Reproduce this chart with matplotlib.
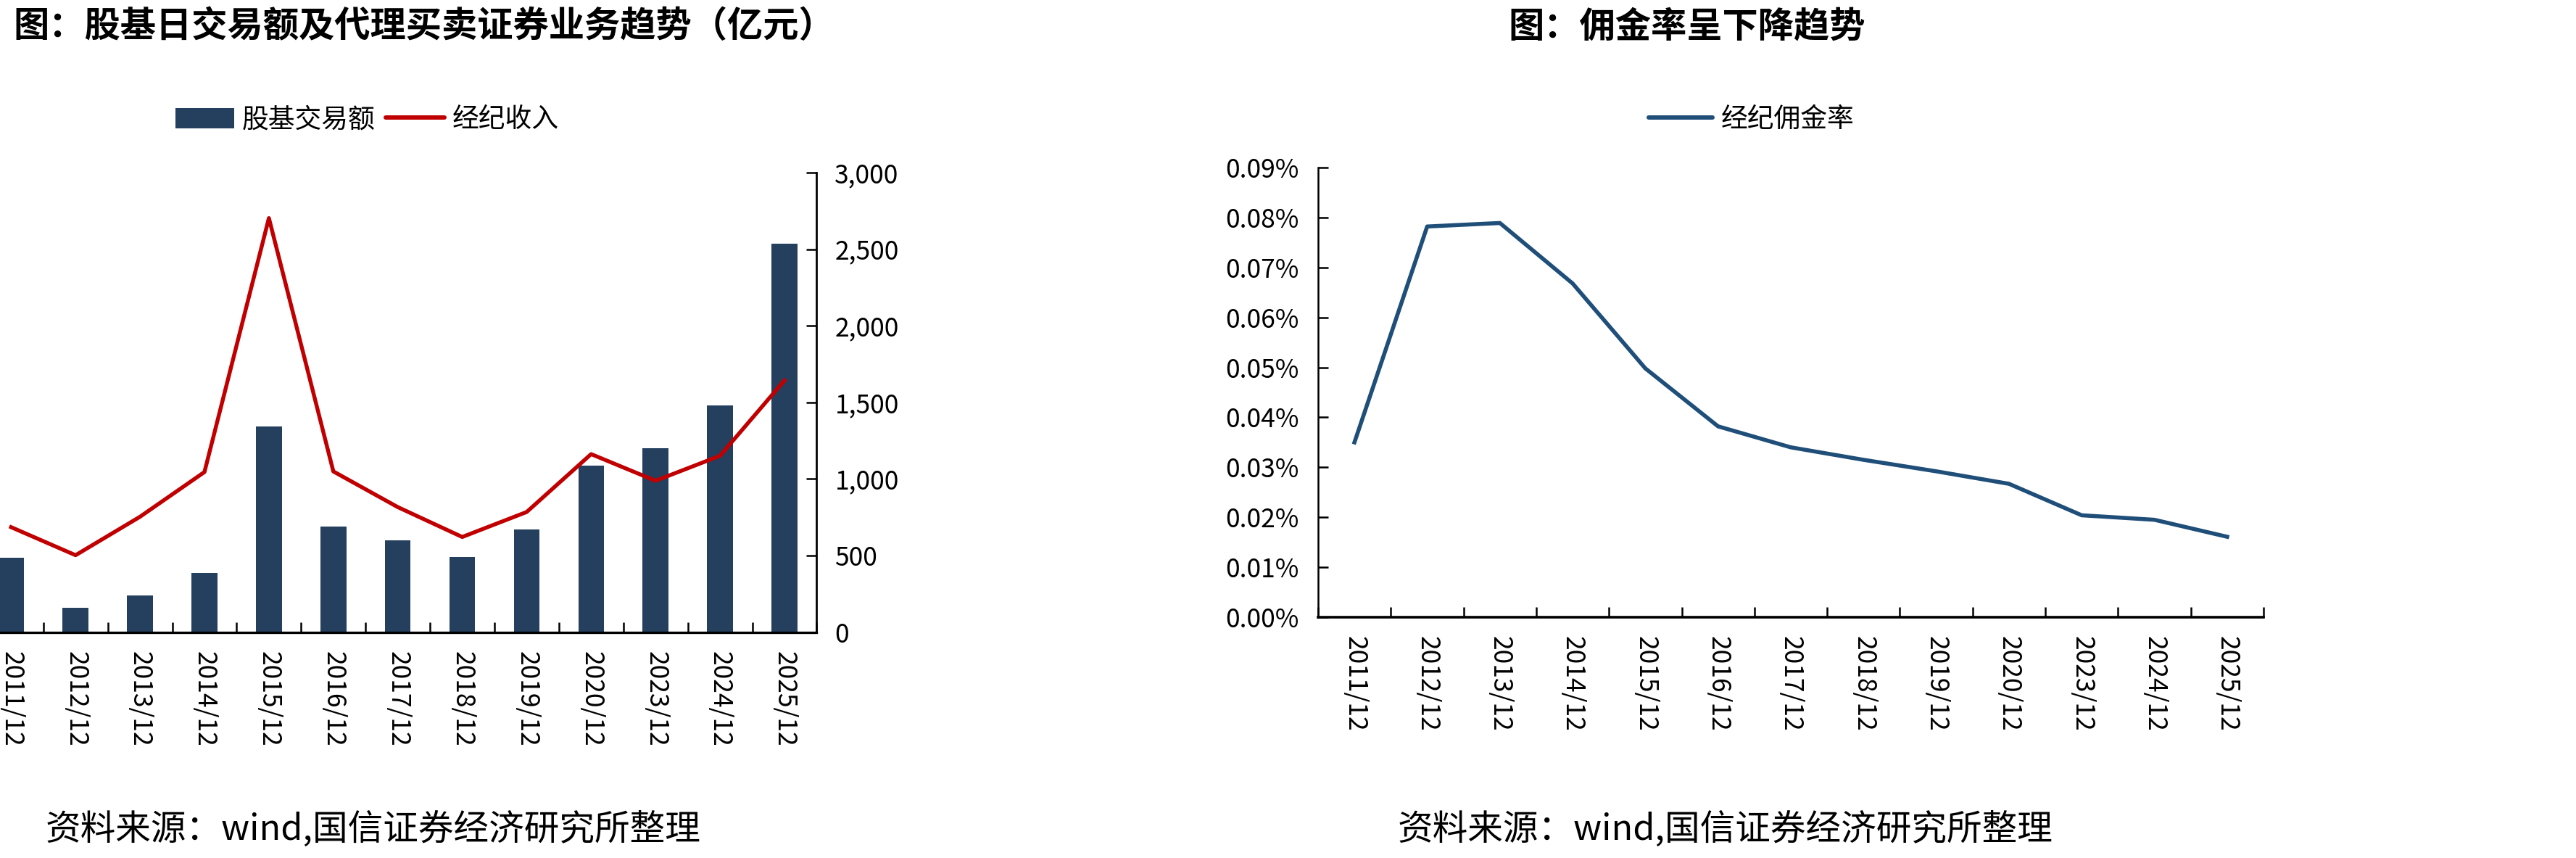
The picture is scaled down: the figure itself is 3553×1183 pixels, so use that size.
import matplotlib
matplotlib.use("Agg")
import matplotlib.pyplot as plt
from matplotlib.patches import Patch
from matplotlib.lines import Line2D
from matplotlib.ticker import FixedLocator, FuncFormatter

plt.rcParams['font.family'] = ['Noto Sans CJK SC', 'DejaVu Sans']

# ---------------- data ----------------
periods = ["2011/12", "2012/12", "2013/12", "2014/12", "2015/12", "2016/12", "2017/12",
           "2018/12", "2019/12", "2020/12", "2023/12", "2024/12", "2025/12"]
turnover = [485, 158, 239, 388, 1342, 689, 598, 490, 670, 1088, 1202, 1482, 2534]        # 股基交易额
brokerage_income = [685, 502, 753, 1045, 2703, 1049, 816, 621, 784, 1162, 988, 1151, 1643]  # 经纪收入
commission_rate = [0.0350, 0.0782, 0.0789, 0.0668, 0.0498, 0.0382, 0.0340, 0.0315,
                   0.0292, 0.0267, 0.0204, 0.0195, 0.0161]                                 # 经纪佣金率 (%)
left_yticks = [0, 500, 1000, 1500, 2000, 2500, 3000]
right_yticks = [0.00, 0.01, 0.02, 0.03, 0.04, 0.05, 0.06, 0.07, 0.08, 0.09]

title_left = "图：股基日交易额及代理买卖证券业务趋势（亿元）"
title_right = "图：佣金率呈下降趋势"
source = "资料来源：wind,国信证券经济研究所整理"

BAR = "#253F5F"
RED = "#C00000"
BLUE = "#1F4E79"

W, H = 3553, 1183
DPI = 100
fig = plt.figure(figsize=(W / DPI, H / DPI), dpi=DPI)

def fx(px):
    return px / W

def fy(py):
    return 1 - py / H

TICK_FS = 25.5
LEG_FS = 26.5

x = list(range(len(periods)))

# ---------------- left chart ----------------
axL = fig.add_axes([fx(-29.1), fy(871.5), fx(1126.4) - fx(-29.1), fy(238) - fy(871.5)])
axL.bar(x, turnover, width=0.4, color=BAR, zorder=2)
axL.plot(x, brokerage_income, color=RED, lw=3.9, zorder=3, solid_joinstyle='round')
axL.set_xlim(-0.5, len(periods) - 0.5)
axL.set_ylim(0, 3000)
for s in ['top', 'left']:
    axL.spines[s].set_visible(False)
axL.spines['right'].set_linewidth(2.0)
axL.spines['bottom'].set_linewidth(2.4)
axL.yaxis.tick_right()
axL.set_yticks(left_yticks)
axL.yaxis.set_major_formatter(FuncFormatter(lambda v, p: f"{v:,.0f}"))
axL.tick_params(axis='y', direction='in', length=10, width=1.8, pad=18, labelsize=TICK_FS)
axL.set_xticks(x)
axL.set_xticklabels(periods, rotation=270)
axL.tick_params(axis='x', which='major', length=0, pad=19, labelsize=TICK_FS)
axL.xaxis.set_minor_locator(FixedLocator([i + 0.5 for i in x]))
axL.tick_params(axis='x', which='minor', direction='in', length=10, width=1.8)

# ---------------- right chart ----------------
axR = fig.add_axes([fx(1818), fy(851), fx(3122) - fx(1818), fy(231) - fy(851)])
axR.plot(x, commission_rate, color=BLUE, lw=4.0, zorder=3, solid_joinstyle='round')
axR.set_xlim(-0.5, len(periods) - 0.5)
axR.set_ylim(0, 0.09)
for s in ['top', 'right']:
    axR.spines[s].set_visible(False)
axR.spines['left'].set_linewidth(1.8)
axR.spines['bottom'].set_linewidth(2.6)
axR.set_yticks(right_yticks)
axR.yaxis.set_major_formatter(FuncFormatter(lambda v, p: f"{v:.2f}%"))
axR.tick_params(axis='y', direction='in', length=10, width=1.8, pad=19, labelsize=TICK_FS)
axR.set_xticks(x)
axR.set_xticklabels(periods, rotation=270)
axR.tick_params(axis='x', which='major', length=0, pad=19, labelsize=TICK_FS)
axR.xaxis.set_minor_locator(FixedLocator([i - 0.5 for i in x] + [len(periods) - 0.5]))
axR.tick_params(axis='x', which='minor', direction='in', length=10, width=1.8)

# ---------------- legends ----------------
handlesL = [Patch(facecolor=BAR, edgecolor='none'),
            Line2D([], [], color=RED, lw=4.3, solid_capstyle='round')]
fig.legend(handlesL, ["股基交易额", "经纪收入"], loc='center left',
           bbox_to_anchor=(fx(242), fy(165)), ncol=2, frameon=False,
           fontsize=LEG_FS, borderpad=0, borderaxespad=0, handlelength=2.2,
           handleheight=0.8, handletextpad=0.3, columnspacing=0.38)
handlesR = [Line2D([], [], color=BLUE, lw=4.3, solid_capstyle='round')]
fig.legend(handlesR, ["经纪佣金率"], loc='center left',
           bbox_to_anchor=(fx(2274), fy(164)), frameon=False,
           fontsize=LEG_FS, borderpad=0, borderaxespad=0, handlelength=2.4,
           handletextpad=0.3)

# ---------------- titles & sources ----------------
fig.text(fx(18), fy(37), title_left, fontsize=35.5, fontweight='bold', va='center', ha='left')
fig.text(fx(2080), fy(37), title_right, fontsize=35.5, fontweight='bold', va='center', ha='left')
fig.text(fx(63), fy(1144), source, fontsize=35, va='center', ha='left')
fig.text(fx(1928), fy(1144), source, fontsize=35, va='center', ha='left')

fig.savefig("out.png", dpi=DPI)
